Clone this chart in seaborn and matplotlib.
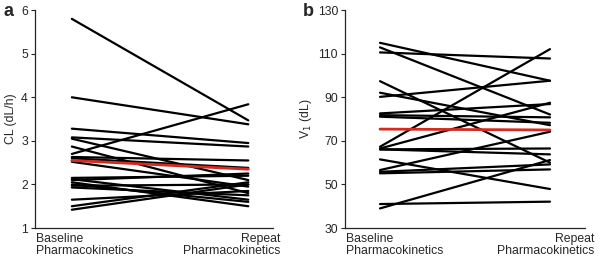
import pandas as pd
import matplotlib.pyplot as plt
import seaborn as sns

# Dados
visitas = ["Baseline\nPharmacokinetics", "Repeat\nPharmacokinetics"]

cl_base = [5.80, 4.00, 2.70, 3.28, 3.08, 3.05, 2.87, 2.63, 2.60, 2.52,
           2.15, 2.12, 2.10, 2.05, 2.00, 1.97, 1.93, 1.65, 1.50, 1.42]
cl_rep = [3.47, 3.38, 3.84, 2.95, 2.87, 2.10, 1.80, 2.55, 2.38, 1.95,
          2.20, 1.65, 2.25, 1.50, 1.60, 2.00, 1.75, 1.85, 2.05, 2.00]
cl_media = [2.55, 2.35]

v1_base = [115.0, 112.9, 110.6, 97.4, 92.1, 90.2, 82.6, 81.8, 81.1, 67.3,
           66.5, 66.1, 66.1, 61.5, 56.6, 55.8, 55.1, 41.0, 39.0]
v1_rep = [97.6, 82.1, 107.8, 60.0, 77.2, 97.6, 86.9, 80.8, 78.3, 112.1,
          87.5, 66.5, 63.8, 47.9, 74.2, 59.2, 56.9, 42.1, 61.2]
v1_media = [75.4, 75.0]


def monta_df(base, rep):
    linhas = []
    for i, (a, b) in enumerate(zip(base, rep)):
        linhas.append({"id": i, "x": 0, "y": a})
        linhas.append({"id": i, "x": 1, "y": b})
    return pd.DataFrame(linhas)


sns.set_style("ticks")
plt.rcParams["font.family"] = ["Liberation Sans", "DejaVu Sans"]

fig = plt.figure(figsize=(6, 2.6), dpi=100)
ax1 = fig.add_axes([0.058, 0.123, 0.397, 0.838])
ax2 = fig.add_axes([0.575, 0.123, 0.400, 0.838])

paineis = [
    (ax1, cl_base, cl_rep, cl_media, (1, 6), range(1, 7), "CL (dL/h)", (-0.21, 1.14), 1.03),
    (ax2, v1_base, v1_rep, v1_media, (30, 130), range(30, 131, 20), "V$_1$ (dL)", (-0.206, 1.206), 1.04),
]

for ax, base, rep, media, ylim, yticks, ylabel, xlim, xr in paineis:
    df = monta_df(base, rep)
    sns.lineplot(data=df, x="x", y="y", units="id", estimator=None,
                 color="black", linewidth=1.6, ax=ax)
    dm = pd.DataFrame({"x": [0, 1], "y": media})
    sns.lineplot(data=dm, x="x", y="y", color="#d42a20", linewidth=2.0, ax=ax)

    ax.set_ylim(*ylim)
    ax.set_yticks(list(yticks))
    ax.set_xlim(*xlim)
    ax.set_xticks([])
    ax.set_xlabel("")
    ax.set_ylabel(ylabel, fontsize=8.8, labelpad=3)
    ax.tick_params(axis="y", labelsize=8.8, length=3, width=0.8, pad=2)
    for s in ["top", "right"]:
        ax.spines[s].set_visible(False)
    for s in ["left", "bottom"]:
        ax.spines[s].set_linewidth(0.9)

    ax.text(0.005, -0.025, visitas[0], transform=ax.transAxes, ha="left", va="top",
            fontsize=8.8, linespacing=1.0, multialignment="left")
    ax.text(xr, -0.025, visitas[1], transform=ax.transAxes, ha="right", va="top",
            fontsize=8.8, linespacing=1.0, multialignment="right")

fig.text(0.005, 0.99, "a", fontsize=13, fontweight="bold", va="top")
fig.text(0.505, 0.99, "b", fontsize=13, fontweight="bold", va="top")

plt.savefig("out.png", dpi=100)
